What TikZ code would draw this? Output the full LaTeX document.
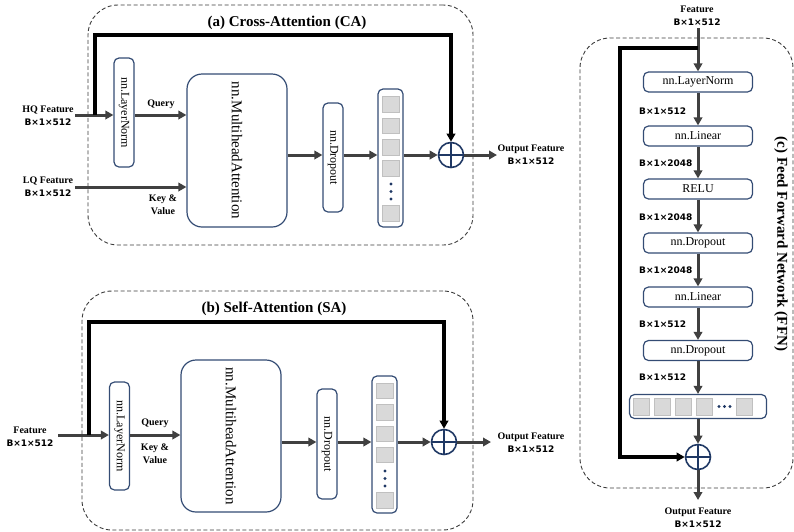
\documentclass[tikz,border=0pt]{standalone}
\usepackage{fontspec}
\setmainfont{Liberation Serif}
\newfontfamily\dimfont{DejaVu Sans}
\usetikzlibrary{arrows.meta,calc}
\definecolor{boxc}{RGB}{52,76,116}
\definecolor{navyc}{RGB}{31,56,100}
\definecolor{arrc}{RGB}{64,64,64}
\definecolor{sqfill}{RGB}{217,217,217}
\definecolor{sqdraw}{RGB}{192,192,192}
\definecolor{framec}{RGB}{60,60,60}
\newcommand\dimtxt[1]{{\dimfont\bfseries\fontsize{9}{10}\selectfont #1}}
\tikzset{
  frame/.style={draw=framec, line width=0.9pt, dash pattern=on 4pt off 2.5pt, rounded corners=30pt, inner sep=0pt},
  blk/.style={draw=boxc, line width=1.2pt, rounded corners=5pt, fill=white, inner sep=0pt},
  bigblk/.style={draw=boxc, line width=1.2pt, rounded corners=15pt, fill=white, inner sep=0pt},
  flow/.style={draw=arrc, line width=3pt, -{Triangle[length=8pt,width=8.5pt]}},
  skipline/.style={draw=black, line width=3.2pt, -{Triangle[length=8pt,width=8.5pt]}},
  lbl/.style={font=\bfseries\fontsize{10}{13}\selectfont, align=center, inner sep=0pt},
  ttl/.style={font=\bfseries\fontsize{15}{18}\selectfont, inner sep=0pt},
  dimlbl/.style={font=\dimfont\bfseries\fontsize{9}{10}\selectfont, inner sep=0pt, anchor=west},
  sq/.style={fill=sqfill, draw=sqdraw, line width=0.8pt, minimum width=16.5pt, minimum height=15.5pt, inner sep=0pt},
  dotn/.style={circle, fill=navyc, minimum size=3.4pt, inner sep=0pt},
  plus/.style={circle, draw=navyc, line width=1.6pt, minimum size=25pt, inner sep=0pt, fill=white,
    path picture={\draw[navyc, line width=1.4pt] (path picture bounding box.north) -- (path picture bounding box.south) (path picture bounding box.west) -- (path picture bounding box.east);}},
  rtxt/.style={font=\fontsize{12}{14}\selectfont},
}
\begin{document}
\begin{tikzpicture}[x=1pt,y=-1pt]
\useasboundingbox (0,0) rectangle (794,531);

% ================= (a) Cross-Attention =================
\node[frame, minimum width=385pt, minimum height=240pt] (frA) at (280.5,125) {};
\node[ttl] (tA) at (287,23) {(a) Cross-Attention (CA)};
\node[blk, minimum width=20pt, minimum height=109pt] (lnA) at (124,112.5) {\rotatebox{-90}{\fontsize{12}{14}\selectfont nn.LayerNorm}};
\node[bigblk, minimum width=100pt, minimum height=153pt] (mhaA) at (237,150.5) {\rotatebox{-90}{\fontsize{15}{18}\selectfont nn.MultiheadAttention}};
\node[blk, minimum width=20pt, minimum height=109pt] (dropA) at (333,157.5) {\rotatebox{-90}{\fontsize{12}{14}\selectfont nn.Dropout}};
\node[blk, minimum width=25pt, minimum height=138pt] (colA) at (390.5,158) {};
\foreach \y [count=\i] in {104.5,126,147.5,168.5,213.5} \node[sq] (sa\i) at (391,\y) {};
\foreach \y [count=\i] in {184,191.5,199} \node[dotn] (da\i) at (391,\y) {};
\node[plus] (plusA) at (451,155) {};

\node[lbl] (hqA) at (48,116) {HQ Feature\\\dimtxt{B×1×512}};
\node[lbl] (lqA) at (48,186.5) {LQ Feature\\\dimtxt{B×1×512}};
\node[lbl] (qA) at (161,104) {Query};
\node[lbl] (kvA) at (163,204.5) {Key \&\\Value};
\node[lbl] (oA) at (531,155) {Output Feature\\\dimtxt{B×1×512}};

\coordinate (hqin) at (75,115);
\coordinate (lqin) at (75,187);
\coordinate (outA) at (497,155);
\coordinate (skA0) at (95,115);
\coordinate (skA1) at (95,35);
\draw[flow] (hqin) -- (hqin -| lnA.west);
\draw[flow] (hqin -| lnA.east) -- (hqin -| mhaA.west);
\draw[flow] (lqin) -- (lqin -| mhaA.west);
\draw[flow] (plusA -| mhaA.east) -- (plusA -| dropA.west);
\draw[flow] (plusA -| dropA.east) -- (plusA -| colA.west);
\draw[flow] (plusA -| colA.east) -- (plusA.west);
\draw[flow] (plusA.east) -- (outA);
\draw[skipline] (skA0) -- (skA1) -| (plusA.north);

% ================= (b) Self-Attention =================
\node[frame, minimum width=391pt, minimum height=239pt] (frB) at (277.5,410.5) {};
\node[ttl] (tB) at (274,309) {(b) Self-Attention (SA)};
\node[blk, minimum width=20pt, minimum height=108pt] (lnB) at (119.5,436) {\rotatebox{-90}{\fontsize{12}{14}\selectfont nn.LayerNorm}};
\node[bigblk, minimum width=100pt, minimum height=152pt] (mhaB) at (231,436) {\rotatebox{-90}{\fontsize{15}{18}\selectfont nn.MultiheadAttention}};
\node[blk, minimum width=20pt, minimum height=110pt] (dropB) at (327,444) {\rotatebox{-90}{\fontsize{12}{14}\selectfont nn.Dropout}};
\node[blk, minimum width=25pt, minimum height=137pt] (colB) at (384.5,444.5) {};
\foreach \y [count=\i] in {391,412.5,434,455,500.5} \node[sq] (sb\i) at (385,\y) {};
\foreach \y [count=\i] in {471,478.5,486} \node[dotn] (db\i) at (385,\y) {};
\node[plus] (plusB) at (444,442) {};

\node[lbl] (fB) at (30,437) {Feature\\\dimtxt{B×1×512}};
\node[lbl] (qB) at (155,423) {Query};
\node[lbl] (kvB) at (155,453.5) {Key \&\\Value};
\node[lbl] (oB) at (531,442.5) {Output Feature\\\dimtxt{B×1×512}};

\coordinate (fin) at (58,435);
\coordinate (outB) at (491,442);
\coordinate (skB0) at (89,435);
\coordinate (skB1) at (89,322);
\draw[flow] (fin) -- (fin -| lnB.west);
\draw[flow] (fin -| lnB.east) -- (fin -| mhaB.west);
\draw[flow] (plusB -| mhaB.east) -- (plusB -| dropB.west);
\draw[flow] (plusB -| dropB.east) -- (plusB -| colB.west);
\draw[flow] (plusB -| colB.east) -- (plusB.west);
\draw[flow] (plusB.east) -- (outB);
\draw[skipline] (skB0) -- (skB1) -| (plusB.north);

% ================= (c) Feed Forward Network =================
\node[frame, minimum width=213pt, minimum height=450pt] (frC) at (686.5,263) {};
\node[ttl, rotate=-90] (tC) at (781,244) {(c) Feed Forward Network (FFN)};
\node[blk, minimum width=109pt, minimum height=20pt, rtxt] (lnC) at (698,82) {nn.LayerNorm};
\node[blk, minimum width=109pt, minimum height=20pt, rtxt] (lin1) at (698,136) {nn.Linear};
\node[blk, minimum width=109pt, minimum height=20pt, rtxt] (relu) at (698,189) {RELU};
\node[blk, minimum width=109pt, minimum height=20pt, rtxt] (drop1) at (698,243) {nn.Dropout};
\node[blk, minimum width=109pt, minimum height=20pt, rtxt] (lin2) at (698,297) {nn.Linear};
\node[blk, minimum width=109pt, minimum height=20pt, rtxt] (drop2) at (698,350.5) {nn.Dropout};
\node[blk, minimum width=137pt, minimum height=24pt] (rowC) at (698,406.5) {};
\foreach \x [count=\i] in {641.5,662.5,683.5,704.5,744.5} \node[sq, minimum width=16.5pt, minimum height=17pt] (sc\i) at (\x,406.5) {};
\foreach \x [count=\i] in {719,724.5,730} \node[dotn] (dc\i) at (\x,406.5) {};
\node[plus] (plusC) at (698,457) {};

\node[lbl] (fC) at (697,16) {Feature\\\dimtxt{B×1×512}};
\node[lbl] (oC) at (698,517.5) {Output Feature\\\dimtxt{B×1×512}};
\node[dimlbl] (d1) at (639,111) {B×1×512};
\node[dimlbl] (d2) at (639,163) {B×1×2048};
\node[dimlbl] (d3) at (639,217) {B×1×2048};
\node[dimlbl] (d4) at (639,270) {B×1×2048};
\node[dimlbl] (d5) at (639,324) {B×1×512};
\node[dimlbl] (d6) at (639,377) {B×1×512};

\coordinate (finC) at (698,28);
\coordinate (outC) at (698,500);
\coordinate (skC0) at (698,48);
\coordinate (skC1) at (620,48);
\draw[flow] (finC) -- (lnC.north);
\draw[flow] (lnC.south) -- (lin1.north);
\draw[flow] (lin1.south) -- (relu.north);
\draw[flow] (relu.south) -- (drop1.north);
\draw[flow] (drop1.south) -- (lin2.north);
\draw[flow] (lin2.south) -- (drop2.north);
\draw[flow] (drop2.south) -- (rowC.north);
\draw[flow] (rowC.south) -- (plusC.north);
\draw[flow] (plusC.south) -- (outC);
\draw[skipline] (skC0) -- (skC1) |- (plusC.west);
\end{tikzpicture}
\end{document}
